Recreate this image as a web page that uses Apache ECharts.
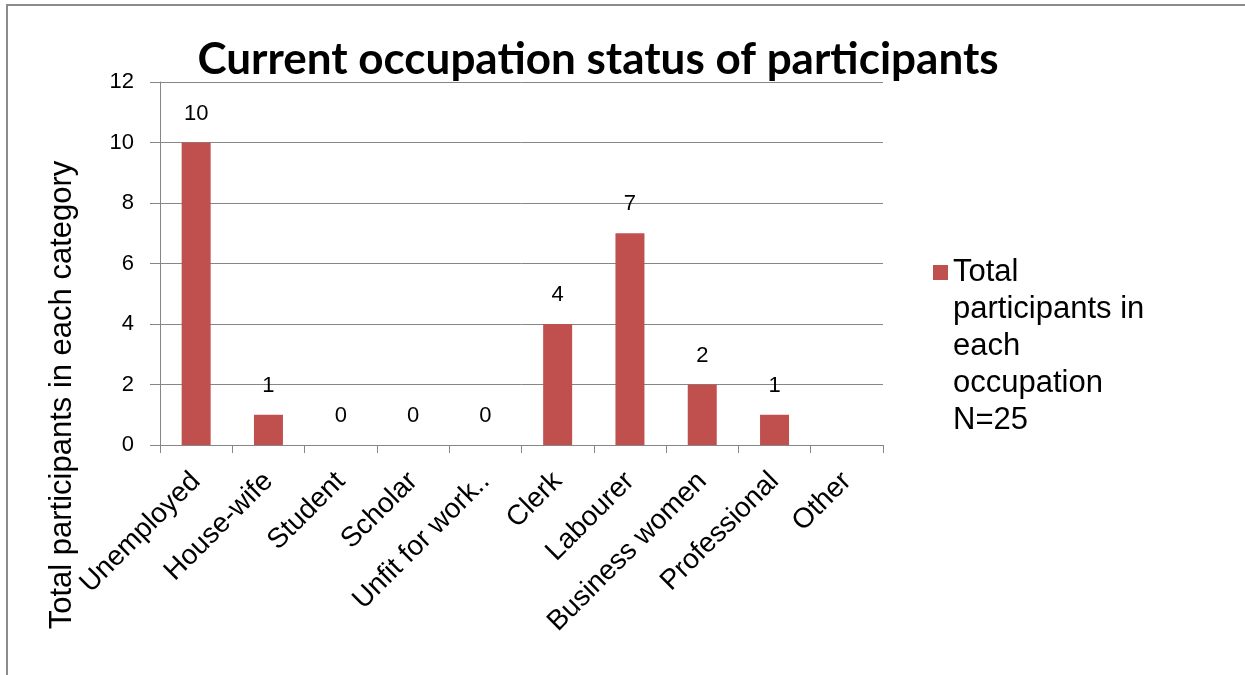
<!DOCTYPE html>
<html>
<head>
<meta charset="utf-8">
<script src="https://cdn.jsdelivr.net/npm/echarts@6/dist/echarts.min.js"></script>
<style>
  html, body { margin: 0; padding: 0; background: #fff; }
  #frame { position: absolute; left: 6px; top: 4px; width: 1239px; height: 671px;
           border-top: 2px solid #8c8c8c; border-left: 2px solid #8c8c8c; }
  #chart { position: absolute; left: 0; top: 0; width: 1245px; height: 675px; }
</style>
</head>
<body>
<div id="frame"></div>
<div id="chart"></div>
<script>
// categories and values
var categories = ['Unemployed', 'House-wife', 'Student', 'Scholar', 'Unfit for work..',
                  'Clerk', 'Labourer', 'Business women', 'Professional', 'Other'];
var participants = [10, 1, 0, 0, 0, 4, 7, 2, 1, null];
var seriesName = 'Total\nparticipants in\neach\noccupation\nN=25';

var myChart = echarts.init(document.getElementById('chart'));
myChart.setOption({
  animation: false,
  title: {
    text: 'Current occupation status of participants',
    left: 593,
    top: 33,
    textAlign: 'center',
    textStyle: { fontFamily: 'Lato', fontWeight: 'bold', fontSize: 44, color: '#000' }
  },
  grid: { left: 160, right: 362, top: 82, bottom: 230 },
  legend: {
    left: 928,
    top: 101,
    itemWidth: 15,
    itemHeight: 15,
    itemGap: 6,
    icon: 'rect',
    data: [seriesName],
    // blank lines first so the square sits beside the first line of text
    formatter: function (name) { return '\n\n\n\n' + name; },
    textStyle: {
      fontFamily: 'Liberation Sans',
      fontSize: 31,
      lineHeight: 37,
      color: '#000'
    }
  },
  xAxis: {
    type: 'category',
    data: categories,
    axisLine: { lineStyle: { color: '#868686' } },
    axisTick: { show: true, length: 8, interval: 0, lineStyle: { color: '#868686' } },
    axisLabel: {
      interval: 0,
      rotate: 45,
      margin: 32,
      fontFamily: 'Liberation Sans',
      fontSize: 28,
      color: '#000'
    }
  },
  yAxis: {
    type: 'value',
    min: 0,
    max: 12,
    interval: 2,
    axisLine: { show: true, lineStyle: { color: '#868686' } },
    axisTick: { show: true, length: 10, lineStyle: { color: '#868686' } },
    splitLine: { lineStyle: { color: '#868686' } },
    axisLabel: {
      margin: 26,
      fontFamily: 'Liberation Sans',
      fontSize: 22,
      color: '#000'
    }
  },
  graphic: [{
    type: 'text',
    x: 62,
    y: 395,
    rotation: Math.PI / 2,
    style: {
      text: 'Total participants in each category',
      fontFamily: 'Liberation Sans',
      fontSize: 31,
      fill: '#000',
      align: 'center',
      verticalAlign: 'middle'
    }
  }],
  series: [{
    name: seriesName,
    type: 'bar',
    data: participants,
    barWidth: 29,
    itemStyle: { color: '#C0504D' },
    label: {
      show: true,
      position: 'top',
      distance: 18,
      fontFamily: 'Liberation Sans',
      fontSize: 22,
      color: '#000'
    }
  }]
});
window.onresize = function () {
  myChart.resize();
};
</script>
</body>
</html>
